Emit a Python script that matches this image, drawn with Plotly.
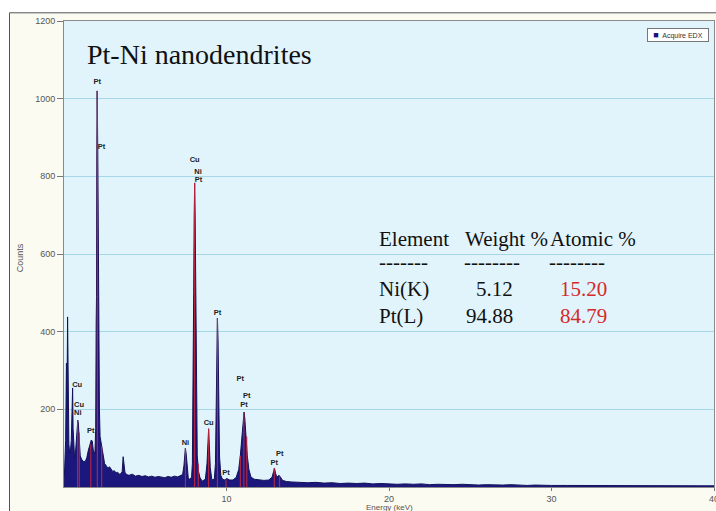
import plotly.graph_objects as go

# ---------------- data ----------------
energy_kev = [0.0, 0.05, 0.1, 0.15, 0.18, 0.22, 0.26, 0.3, 0.35, 0.4, 0.45, 0.5, 0.53, 0.56, 0.6,
              0.65, 0.7, 0.75, 0.8, 0.85, 0.88, 0.92, 0.96, 1.0, 1.1, 1.2, 1.3, 1.4, 1.5, 1.6,
              1.68, 1.74, 1.8, 1.9, 1.95, 1.98, 2.0, 2.02, 2.04, 2.06, 2.08, 2.1, 2.14, 2.18,
              2.22, 2.28, 2.35, 2.4, 2.5, 2.6, 2.7, 2.8, 2.9, 3.0, 3.1, 3.2, 3.3, 3.4, 3.5,
              3.58, 3.64, 3.69, 3.75, 3.85, 4.0, 4.2, 4.4, 4.6, 4.8, 5.0, 5.2, 5.4, 5.6, 5.8,
              6.0, 6.2, 6.4, 6.6, 6.8, 7.0, 7.2, 7.3, 7.38, 7.43, 7.47, 7.52, 7.58, 7.65, 7.75,
              7.85, 7.9, 7.95, 7.98, 8.01, 8.04, 8.07, 8.1, 8.14, 8.2, 8.28, 8.36, 8.5, 8.7,
              8.8, 8.86, 8.9, 8.94, 9.0, 9.1, 9.25, 9.32, 9.37, 9.41, 9.44, 9.48, 9.52, 9.57,
              9.65, 9.75, 9.9, 10.0, 10.2, 10.4, 10.6, 10.75, 10.85, 10.95, 11.03, 11.08, 11.13,
              11.2, 11.28, 11.38, 11.5, 11.7, 12.0, 12.3, 12.6, 12.8, 12.9, 12.95, 13.02, 13.1,
              13.22, 13.3, 13.45, 13.7, 14.0, 14.5, 15.0, 15.5, 16.0, 16.5, 17.0, 17.5, 18.0,
              18.5, 19.0, 19.5, 20.0, 20.5, 21.0, 21.5, 22.0, 22.5, 23.0, 23.5, 24.0, 24.5, 25.0,
              25.5, 26.0, 26.5, 27.0, 27.5, 28.0, 28.5, 29.0, 29.5, 30.0, 31.0, 32.0, 33.0, 34.0,
              35.0, 36.0, 37.0, 38.0, 39.0, 40.0]
counts = [0, 60, 120, 319, 200, 438, 150, 110, 87, 95, 120, 200, 255, 150, 90,
          77, 85, 120, 160, 172, 165, 130, 100, 80, 70, 66, 65, 75, 95, 112,
          121, 118, 95, 85, 150, 420, 490, 868, 1020, 945, 860, 700, 320, 200,
          130, 113, 100, 80, 60, 55, 48, 52, 44, 40, 42, 36, 38, 33, 34,
          40, 78, 55, 38, 32, 30, 33, 28, 30, 27, 29, 26, 28, 25, 27,
          26, 24, 27, 25, 28, 26, 30, 32, 55, 90, 100, 85, 40, 22, 20,
          25, 60, 250, 500, 690, 783, 700, 480, 200, 80, 40, 25, 15, 20,
          60, 130, 150, 110, 50, 18, 20, 60, 250, 420, 435, 380, 200, 80,
          30, 20, 18, 22, 18, 18, 25, 45, 80, 130, 180, 193, 175,
          130, 80, 45, 26, 20, 18, 17, 18, 25, 40, 49, 35, 25,
          30, 27, 17, 14, 13, 12, 11, 12, 10, 11, 9, 10, 9,
          10, 8, 9, 8, 7, 8, 7, 8, 6, 7, 6, 6, 7, 6,
          5, 6, 5, 5, 6, 5, 4, 5, 4, 4, 4, 4, 3, 4,
          3, 3, 3, 3, 3, 3]

marker_energy = [0.84, 0.94, 1.65, 2.05, 2.32, 7.47, 8.04, 8.26, 8.9, 9.44, 9.97, 10.85, 11.07, 11.25, 12.94, 13.27]
marker_height = [170, 140, 110, 1020, 105, 100, 783, 60, 150, 435, 20, 80, 193, 130, 49, 27]

label_text = ["Cu", "Cu", "Ni", "Pt", "Pt", "Pt", "Ni", "Cu", "Ni", "Pt", "Cu", "Pt", "Pt", "Pt", "Pt", "Pt", "Pt", "Pt"]
label_energy = [0.81, 0.93, 0.85, 1.65, 2.05, 2.30, 7.47, 8.04, 8.25, 8.27, 8.90, 9.44, 9.97, 10.85, 11.25, 11.07, 12.94, 13.27]
label_counts = [263, 211, 189, 144, 1043, 876, 113, 842, 811, 791, 165, 448, 36, 278, 233, 210, 62, 85]

table_header = ["Element", "Weight %", "Atomic %"]
table_elements = ["Ni(K)", "Pt(L)"]
table_weight = ["5.12", "94.88"]
table_atomic = ["15.20", "84.79"]

x_ticks = [10, 20, 30, 40]
y_ticks = [200, 400, 600, 800, 1000, 1200]

# ---------------- geometry helpers (pixel -> paper) ----------------
L, R, T, B = 64, 714, 20.7, 487


def px(xp):
    return (xp - L) / (R - L)


def py(yp):
    return (B - yp) / (B - T)


fig = go.Figure()

fig.add_trace(go.Scatter(
    x=energy_kev, y=counts, mode="lines", fill="tozeroy",
    line=dict(color="#14115a", width=1), fillcolor="#1c177c",
    hoverinfo="skip", showlegend=False))

mx, my = [], []
for e, h in zip(marker_energy, marker_height):
    mx += [e, e, None]
    my += [0, h, None]
fig.add_trace(go.Scatter(x=mx, y=my, mode="lines",
                         line=dict(color="#c8283c", width=1),
                         hoverinfo="skip", showlegend=False))

fig.add_trace(go.Scatter(
    x=label_energy, y=label_counts, mode="text", text=["<b>%s</b>" % t for t in label_text],
    textfont=dict(family="Arial", size=7.5, color="#222222"),
    textposition="middle center", hoverinfo="skip", showlegend=False))

fig.update_layout(
    width=716, height=511,
    margin=dict(l=64, r=716 - R, t=21, b=511 - B),
    paper_bgcolor="#fbfbf2",
    plot_bgcolor="#e1f4fb",
    font=dict(family="Arial", size=9, color="#555555"),
    showlegend=False,
)
fig.update_xaxes(range=[0, 40], tickvals=x_ticks, ticktext=[str(v) for v in x_ticks],
                 ticks="outside", ticklen=3, tickcolor="#777777",
                 ticklabeloverflow="allow", automargin=False,
                 showgrid=False, zeroline=False, showline=True, linecolor="#8a8a8a",
                 mirror=True, tickfont=dict(size=9, color="#555555"))
fig.update_yaxes(range=[0, 1200], tickvals=y_ticks, ticktext=[str(v) for v in y_ticks],
                 ticks="outside", ticklen=6, tickcolor="#777777", automargin=False,
                 showgrid=True, gridcolor="#a6d7e8", gridwidth=1,
                 zeroline=False, showline=True, linecolor="#8a8a8a", mirror=True,
                 tickfont=dict(size=9, color="#555555"))

# outer frame: white margin top/left, dark border
fig.add_shape(type="rect", xref="paper", yref="paper",
              x0=px(-5), x1=px(9), y0=py(530), y1=py(-5),
              fillcolor="white", line=dict(width=0), layer="above")
fig.add_shape(type="rect", xref="paper", yref="paper",
              x0=px(-5), x1=px(730), y0=py(12), y1=py(-5),
              fillcolor="white", line=dict(width=0), layer="above")
fig.add_shape(type="rect", xref="paper", yref="paper",
              x0=px(9.5), x1=px(730), y0=py(530), y1=py(12.5),
              fillcolor="rgba(0,0,0,0)", line=dict(color="#555555", width=1), layer="above")

ann = []
ann.append(dict(text="Pt-Ni nanodendrites", x=px(85), y=py(54), xanchor="left", yanchor="middle",
                font=dict(family="Liberation Serif, Times New Roman, serif", size=28, color="#111111")))
ann.append(dict(text="Counts", x=px(20), y=py(258), textangle=-90, xanchor="center", yanchor="middle",
                font=dict(family="Arial", size=9, color="#555555")))
ann.append(dict(text="Energy (keV)", x=px(389), y=py(507.5), xanchor="center", yanchor="middle",
                font=dict(family="Arial", size=8, color="#555555")))
ann.append(dict(text="<span style='color:#1a1080;font-size:9px'>■</span>  Acquire EDX", x=px(709), y=py(28),
                xanchor="right", yanchor="top", bordercolor="#777777", borderwidth=1, borderpad=1,
                bgcolor="#ffffff", width=58, align="center",
                font=dict(family="Arial", size=7, color="#333333")))

serif = "Liberation Serif, Times New Roman, serif"
tf = 21
hdr_x = [377, 463, 548]
for h, xx in zip(table_header, hdr_x):
    ann.append(dict(text=h, x=px(xx), y=py(239), xanchor="left", yanchor="middle",
                    font=dict(family=serif, size=tf, color="#111111")))
dash_x = [377, 462, 547]
dash_txt = ["-------", "--------", "--------"]
for d, xx in zip(dash_txt, dash_x):
    ann.append(dict(text=d, x=px(xx), y=py(262), xanchor="left", yanchor="middle",
                    font=dict(family=serif, size=tf, color="#111111")))
row_y = [289, 316]
for el, w, a, yy in zip(table_elements, table_weight, table_atomic, row_y):
    ann.append(dict(text=el, x=px(377), y=py(yy), xanchor="left", yanchor="middle",
                    font=dict(family=serif, size=tf, color="#111111")))
    ann.append(dict(text=w, x=px(515), y=py(yy), xanchor="right", yanchor="middle",
                    font=dict(family=serif, size=tf, color="#111111")))
    ann.append(dict(text=a, x=px(558), y=py(yy), xanchor="left", yanchor="middle",
                    font=dict(family=serif, size=tf, color="#d42a2a")))

for a in ann:
    a.update(xref="paper", yref="paper", showarrow=False)
fig.update_layout(annotations=ann)

fig.write_html("out.html")
